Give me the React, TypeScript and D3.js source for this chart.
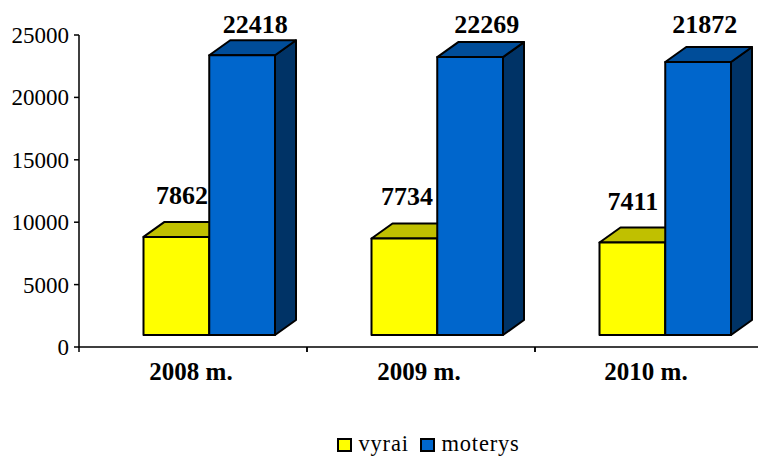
import * as d3 from "d3";
import React from "react";

const years = ["2008 m.", "2009 m.", "2010 m."];
const seriesNames = ["vyrai", "moterys"];
const vyrai = [7862, 7734, 7411];
const moterys = [22418, 22269, 21872];
const yTicks = [0, 5000, 10000, 15000, 20000, 25000];

const colors = [
  { front: "#ffff00", top: "#c0c000", side: "#808000" },
  { front: "#0066cc", top: "#004d99", side: "#003366" },
];

// hand placed labels in the original
const labelShift = [
  [5.5, 2.5, 0.5],
  [13, 16.5, 6.5],
];
const yearShift = [-2, -2, -3];

const x0 = d3.scaleBand<string>().domain(years).range([79, 763]);
const x1 = d3.scaleBand<string>().domain(seriesNames).range([64.5, 196]);
const y = d3.scaleLinear().domain([0, 25000]).range([347, 35]);

const depthX = 21;
const depthY = 15;
const lift = 12; // bars float above the axis

const serif = "'Liberation Serif', 'Times New Roman', serif";

export default function App() {
  const values = [vyrai, moterys];
  const w = x1.bandwidth();
  const base = y(0) - lift;

  return (
    <svg
      width={758}
      height={456}
      style={{ position: "absolute", left: 0, top: 0, background: "#fff" }}
      fontFamily={serif}
    >
      {/* axes */}
      <path d={`M79,${y(25000)}V${y(0)}H758`} fill="none" stroke="#000" strokeWidth={1.5} />
      {yTicks.map((t) => (
        <g key={t}>
          <line x1={74} x2={79} y1={y(t)} y2={y(t)} stroke="#000" strokeWidth={1.5} />
          <text x={69} y={y(t) + 8} textAnchor="end" fontSize={23}>
            {t}
          </text>
        </g>
      ))}
      {years.map((yr, i) => (
        <g key={yr}>
          <line x1={x0(yr)!} x2={x0(yr)!} y1={y(0)} y2={y(0) + 5} stroke="#000" strokeWidth={1.5} />
          <line
            x1={x0(yr)! + x0.bandwidth()}
            x2={x0(yr)! + x0.bandwidth()}
            y1={y(0)}
            y2={y(0) + 5}
            stroke="#000"
            strokeWidth={1.5}
          />
          <text
            x={x0(yr)! + x0.bandwidth() / 2 + yearShift[i]}
            y={380}
            textAnchor="middle"
            fontSize={25}
            fontWeight="bold"
          >
            {yr}
          </text>
        </g>
      ))}

      {/* bars */}
      {years.map((yr, i) =>
        seriesNames.map((s, j) => {
          const left = x0(yr)! + x1(s)!;
          const right = left + w;
          const top = y(values[j][i]) - lift;
          return (
            <g key={s} stroke="#000" strokeWidth={2} strokeLinejoin="round">
              <path
                d={`M${right},${top}l${depthX},${-depthY}V${base - depthY}l${-depthX},${depthY}Z`}
                fill={colors[j].side}
              />
              <path
                d={`M${left},${top}l${depthX},${-depthY}H${right + depthX}l${-depthX},${depthY}Z`}
                fill={colors[j].top}
              />
              <rect x={left} y={top} width={w} height={base - top} fill={colors[j].front} />
            </g>
          );
        })
      )}

      {/* value labels, drawn over the bars */}
      {years.map((yr, i) =>
        seriesNames.map((s, j) => {
          const cx = x0(yr)! + x1(s)! + w / 2 + labelShift[j][i];
          const ly = j === 0 ? y(values[j][i]) - lift - 33 : y(25000) - 2;
          return (
            <text key={s} x={cx} y={ly} textAnchor="middle" fontSize={26} fontWeight="bold">
              {values[j][i]}
            </text>
          );
        })
      )}

      {/* legend */}
      {seriesNames.map((s, j) => {
        const lx = j === 0 ? 338 : 421;
        return (
          <g key={s}>
            <rect x={lx} y={439} width={13} height={12} fill={colors[j].front} stroke="#000" strokeWidth={2} />
            <text x={lx + 20.5} y={451} fontSize={22.5} letterSpacing={0.8}>
              {s}
            </text>
          </g>
        );
      })}
    </svg>
  );
}
